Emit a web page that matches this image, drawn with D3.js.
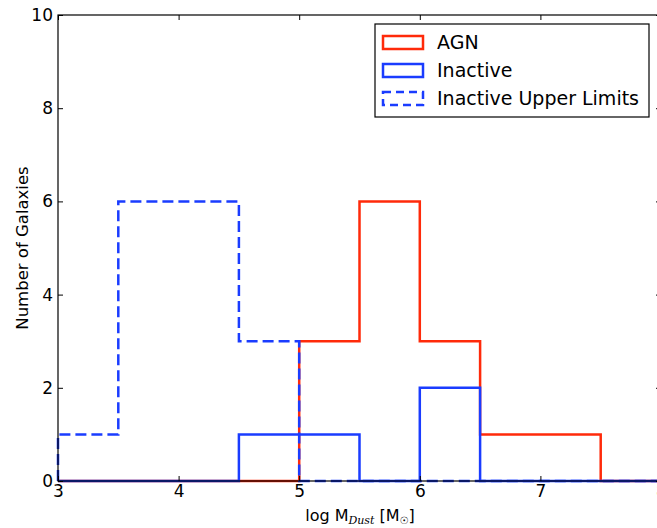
<!DOCTYPE html>
<html>
<head>
<meta charset="utf-8">
<script src="https://cdnjs.cloudflare.com/ajax/libs/d3/7.8.5/d3.min.js"></script>
<style>
  body { margin: 0; background: #fff; }
  svg text { font-family: "DejaVu Sans", sans-serif; fill: #000; }
</style>
</head>
<body>
<svg id="chart_1"></svg>
<script>
// bin edges and counts per series
var binEdges = [3, 3.5, 4, 4.5, 5, 5.5, 6, 6.5, 7, 7.5, 8];
var agnCounts = [0, 0, 0, 0, 3, 6, 3, 1, 1, 0];
var inactiveCounts = [0, 0, 0, 1, 1, 0, 2, 0, 0, 0];
var upperCounts = [1, 6, 6, 3, 0, 0, 0, 0, 0, 0];
var xTicks = [3, 4, 5, 6, 7, 8];
var yTicks = [0, 2, 4, 6, 8, 10];

var series = [
    {name: "AGN", counts: agnCounts, color: "#ff2a0a", dash: null},
    {name: "Inactive", counts: inactiveCounts, color: "#1a3cff", dash: null},
    {name: "Inactive Upper Limits", counts: upperCounts, color: "#1a3cff", dash: "11,5"}
];

var width = 657, height = 528;
var margin = {top: 15, left: 58},
    plot_width = 603,
    plot_height = 466;

var svg = d3.select("#chart_1")
    .attr("width", width)
    .attr("height", height);

var xScale = d3.scaleLinear().domain([3, 8]).range([0, plot_width]);
var yScale = d3.scaleLinear().domain([0, 10]).range([plot_height, 0]);

var g = svg.append("g")
    .attr("transform", "translate(" + margin.left + "," + margin.top + ")");

// step outline for a histogram
function stepPath(counts) {
    var pts = [[binEdges[0], 0]];
    counts.forEach(function (c, i) {
        pts.push([binEdges[i], c]);
        pts.push([binEdges[i + 1], c]);
    });
    pts.push([binEdges[binEdges.length - 1], 0]);
    return d3.line()
        .x(function (d) { return xScale(d[0]); })
        .y(function (d) { return yScale(d[1]); })(pts);
}

g.selectAll("path.hist")
    .data(series)
    .enter()
    .append("path")
    .attr("class", "hist")
    .attr("d", function (d) { return stepPath(d.counts); })
    .attr("fill", "none")
    .attr("stroke", function (d) { return d.color; })
    .attr("stroke-width", 2.5)
    .attr("stroke-dasharray", function (d) { return d.dash; });

// frame
g.append("rect")
    .attr("width", plot_width)
    .attr("height", plot_height)
    .attr("fill", "none")
    .attr("stroke", "#000")
    .attr("stroke-width", 1.2);

// axes with inward ticks
var fmt = d3.format("d");
var xAxis = d3.axisBottom(xScale).tickValues(xTicks).tickSize(-5).tickPadding(4).tickFormat(fmt).tickSizeOuter(0);
var xAxisTop = d3.axisTop(xScale).tickValues(xTicks).tickSize(-5).tickFormat("").tickSizeOuter(0);
var yAxis = d3.axisLeft(yScale).tickValues(yTicks).tickSize(-5).tickPadding(5).tickFormat(fmt).tickSizeOuter(0);
var yAxisRight = d3.axisRight(yScale).tickValues(yTicks).tickSize(-5).tickFormat("").tickSizeOuter(0);

g.append("g").attr("class", "x axis")
    .attr("transform", "translate(0," + plot_height + ")").call(xAxis);
g.append("g").attr("class", "x axis").call(xAxisTop);
g.append("g").attr("class", "y axis").call(yAxis);
g.append("g").attr("class", "y axis")
    .attr("transform", "translate(" + plot_width + ",0)").call(yAxisRight);

g.selectAll(".axis path.domain").remove();
g.selectAll(".axis .tick line").attr("stroke", "#000").attr("stroke-width", 1);
g.selectAll(".axis text").style("font-size", "17px").style("font-family", "DejaVu Sans");

// axis labels
var xl = svg.append("text")
    .attr("x", 360)
    .attr("y", 521)
    .attr("text-anchor", "middle")
    .style("font-size", "16px");
xl.append("tspan").text("log M");
xl.append("tspan").attr("dy", 3).style("font-family", "DejaVu Serif").style("font-style", "italic")
    .style("font-size", "11px").text("Dust");
xl.append("tspan").attr("dy", -3).text(" [M");
xl.append("tspan").attr("dy", 3).style("font-size", "10px").text("\u2609");
xl.append("tspan").attr("dy", -3).text("]");

svg.append("text")
    .attr("transform", "translate(28,248) rotate(-90)")
    .attr("text-anchor", "middle")
    .style("font-size", "16.5px")
    .text("Number of Galaxies");

// legend
var legend = svg.append("g").attr("transform", "translate(375,24)");
legend.append("rect")
    .attr("width", 274)
    .attr("height", 93)
    .attr("fill", "#fff")
    .attr("stroke", "#000")
    .attr("stroke-width", 1.2);

var items = legend.selectAll("g.item")
    .data(series)
    .enter()
    .append("g")
    .attr("class", "item")
    .attr("transform", function (d, i) { return "translate(0," + (18 + i * 28) + ")"; });

items.append("rect")
    .attr("x", 8)
    .attr("y", -6)
    .attr("width", 40)
    .attr("height", 13)
    .attr("fill", "none")
    .attr("stroke", function (d) { return d.color; })
    .attr("stroke-width", 2.5)
    .attr("stroke-dasharray", function (d) { return d.dash ? "8,5" : null; });

items.append("text")
    .attr("x", 62)
    .attr("y", 7)
    .style("font-size", "19px")
    .text(function (d) { return d.name; });
</script>
</body>
</html>
